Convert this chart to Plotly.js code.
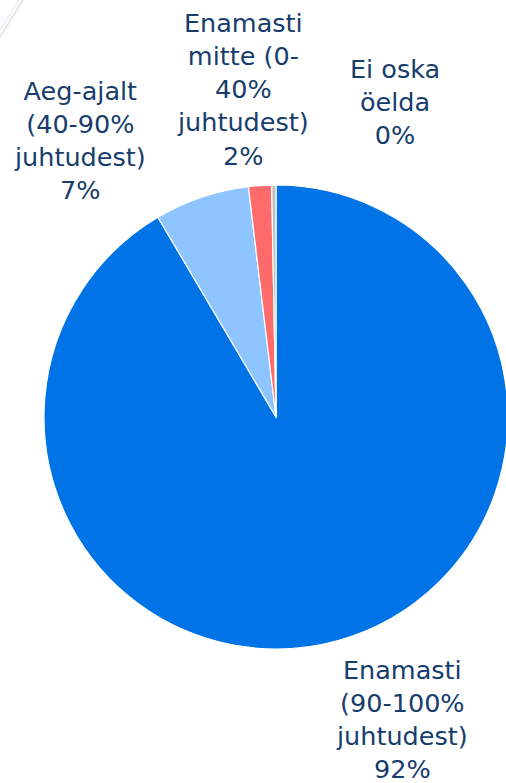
<!DOCTYPE html>
<html>
<head>
<meta charset="utf-8">
<script src="https://cdn.plot.ly/plotly-3.0.1.min.js"></script>
<style>
  html, body { margin: 0; padding: 0; overflow: hidden; background: #ffffff; }
  #chart { width: 520px; height: 783px; }
</style>
</head>
<body>
<div id="chart"></div>
<script>
// ---- data ----
const categories = [
  "Enamasti (90-100% juhtudest)",
  "Aeg-ajalt (40-90% juhtudest)",
  "Enamasti mitte (0-40% juhtudest)",
  "Ei oska öelda"
];
const labelLines = [
  ["Enamasti", "(90-100%", "juhtudest)"],
  ["Aeg-ajalt", "(40-90%", "juhtudest)"],
  ["Enamasti", "mitte (0-", "40%", "juhtudest)"],
  ["Ei oska", "öelda"]
];
const values = [91.5, 6.6, 1.6, 0.3];
const colors = ["#0073E6", "#8EC4FF", "#FF6B6B", "#BFBFBF"];

// ---- layout helpers ----
const W = 520, H = 783;
// label block centres in pixels
const labelPos = [
  [402, 719],
  [80, 141],
  [243, 89],
  [395, 102]
];
const total = values.reduce((a, b) => a + b, 0);

const annotations = categories.map((c, i) => ({
  xref: "paper", yref: "paper",
  x: labelPos[i][0] / W, y: 1 - labelPos[i][1] / H,
  xanchor: "center", yanchor: "middle",
  showarrow: false, align: "center",
  text: labelLines[i].join("<br>") + "<br>" + Math.round(values[i] / total * 100) + "%",
  font: { family: "DejaVu Sans, Verdana, sans-serif", size: 25.5, color: "#173D6C" }
}));

const cx = 276, cy = 417, r = 232;
const trace = {
  type: "pie",
  labels: categories,
  values: values,
  sort: false,
  direction: "clockwise",
  rotation: 0,
  textinfo: "none",
  hoverinfo: "label+percent",
  marker: { colors: colors, line: { color: "#ffffff", width: 1.2 } },
  domain: { x: [(cx - r) / W, (cx + r) / W], y: [1 - (cy + r) / H, 1 - (cy - r) / H] },
  showlegend: false
};

const layout = {
  width: W, height: H,
  margin: { l: 0, r: 0, t: 0, b: 0, pad: 0 },
  paper_bgcolor: "#ffffff",
  showlegend: false,
  annotations: annotations,
  shapes: [
    { type: "line", xref: "paper", yref: "paper", x0: 0, y0: 1 - 37 / H, x1: 23 / W, y1: 1,
      line: { color: "#E3E6EC", width: 2 } },
    { type: "line", xref: "paper", yref: "paper", x0: 0, y0: 1 - 30 / H, x1: 19 / W, y1: 1,
      line: { color: "#EEF0F4", width: 1.5 } }
  ]
};

Plotly.newPlot("chart", [trace], layout, { staticPlot: true, displayModeBar: false });
</script>
</body>
</html>
